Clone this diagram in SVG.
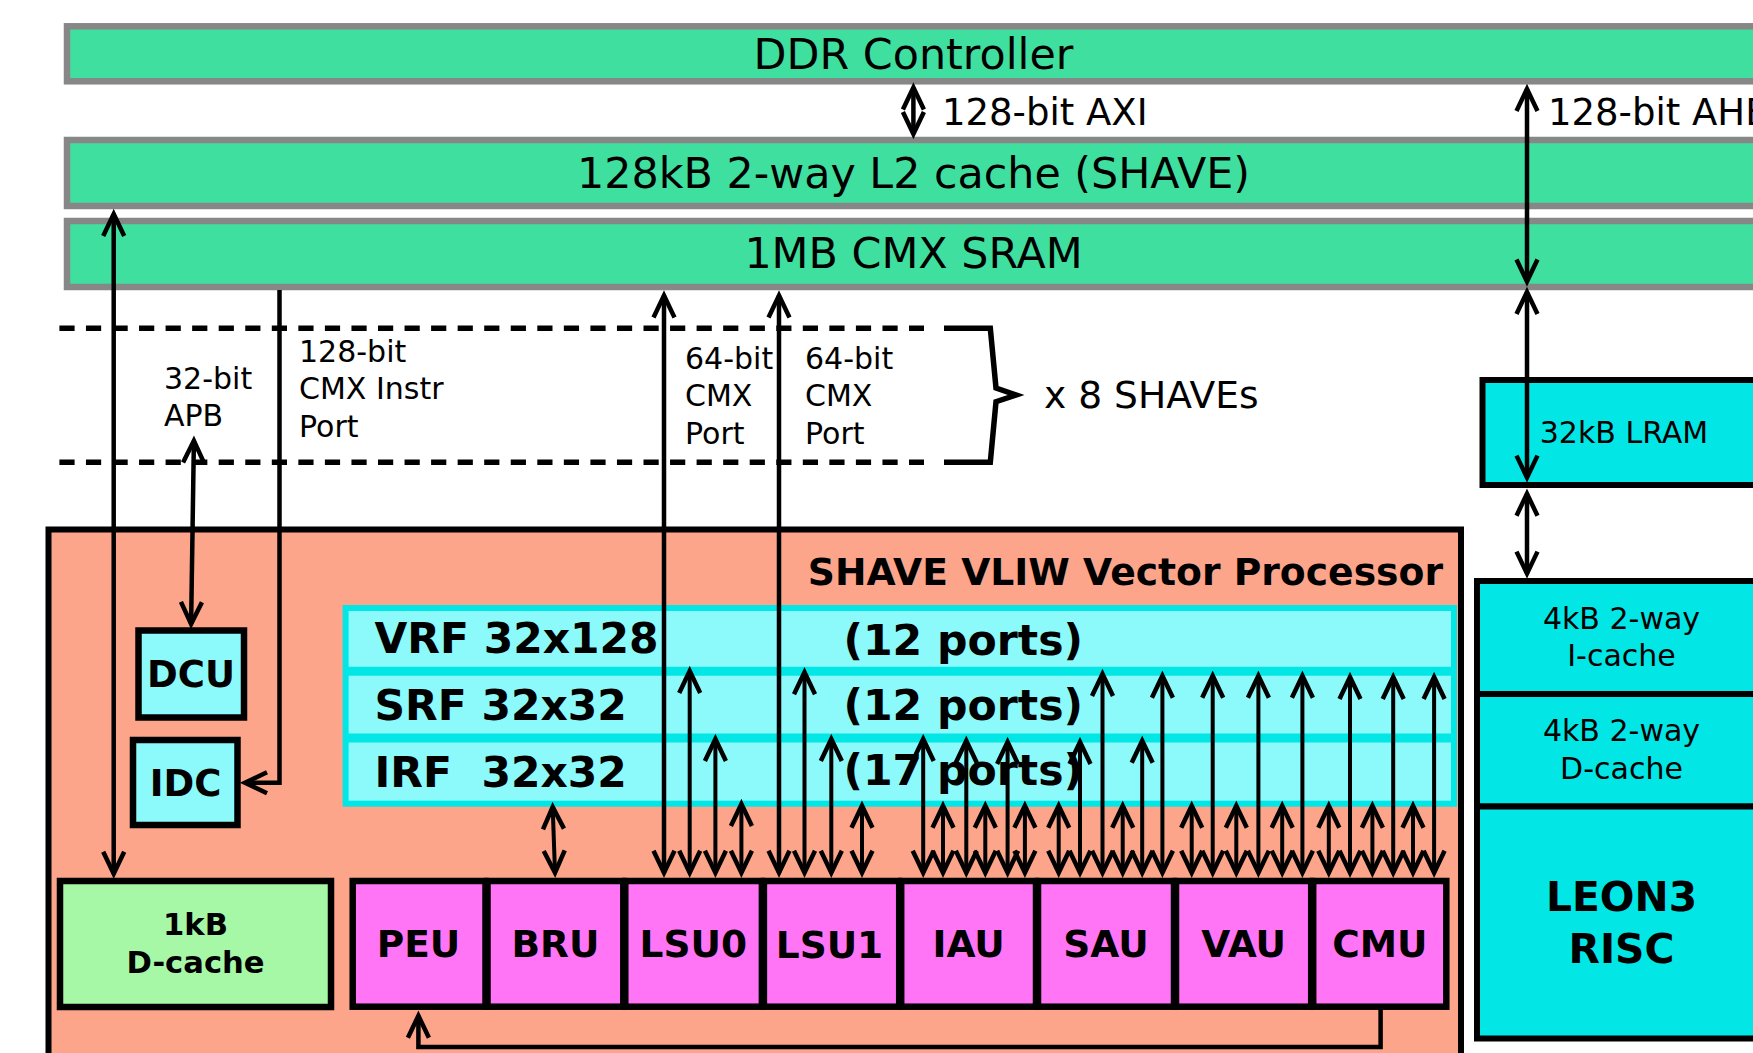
<svg xmlns="http://www.w3.org/2000/svg" width="1753" height="1053" viewBox="0 0 1753 1053">
<defs>
<style>
.bar{fill:#3fe09f;stroke:#878787;stroke-width:6.5}
.t{font-family:"DejaVu Sans","Liberation Sans",sans-serif;fill:#000}
.b{font-family:"DejaVu Sans","Liberation Sans",sans-serif;font-weight:bold;fill:#000}
.c{text-anchor:middle}
.cy{fill:#03e6e6;stroke:#000;stroke-width:6}
.lc{fill:#8cfafa;stroke:#000;stroke-width:6.5}
.fu{fill:#ff75f5;stroke:#000;stroke-width:6.5}
.w{fill:none;stroke:#000;stroke-width:4.5}
.s{fill:none;stroke:#000;stroke-width:4}
.a{marker-start:url(#ah);marker-end:url(#ah)}
.ae{marker-end:url(#ah)}
</style>
<marker id="ah" viewBox="-30 -15 40 30" refX="0" refY="0" markerWidth="40" markerHeight="30" markerUnits="userSpaceOnUse" orient="auto-start-reverse" overflow="visible">
<path d="M-22,-10.5 L0,0 L-22,10.5" fill="none" stroke="#000" stroke-width="4.5"/>
</marker>
</defs>
<rect width="1753" height="1053" fill="#fff"/>

<g id="ddr"><rect class="bar" x="67" y="26.3" width="1740" height="55"/><text class="t c" x="913.5" y="69.3" font-size="42.8">DDR Controller</text></g>
<g id="l2"><rect class="bar" x="67" y="140" width="1740" height="66"/><text class="t c" x="913.5" y="188.3" font-size="42.8">128kB 2-way L2 cache (SHAVE)</text></g>
<g id="cmx"><rect class="bar" x="67" y="221" width="1740" height="66"/><text class="t c" x="913.5" y="268" font-size="42.8">1MB CMX SRAM</text></g>

<g id="lram"><rect class="cy" x="1482.5" y="380" width="320" height="105"/><text class="t c" x="1624" y="443" font-size="30">32kB LRAM</text></g>
<g id="icache"><rect class="cy" x="1477" y="581" width="330" height="113"/><text class="t c" x="1621.5" y="629" font-size="30">4kB 2-way</text><text class="t c" x="1621.5" y="666" font-size="30">I-cache</text></g>
<g id="dcache4k"><rect class="cy" x="1477" y="694" width="330" height="112.5"/><text class="t c" x="1621.5" y="741" font-size="30">4kB 2-way</text><text class="t c" x="1621.5" y="779" font-size="30">D-cache</text></g>
<g id="leon3"><rect class="cy" x="1477" y="806.5" width="330" height="232"/><text class="b c" x="1621.5" y="911" font-size="40.8">LEON3</text><text class="b c" x="1621.5" y="963" font-size="40.8">RISC</text></g>

<g id="shave-rep">
<path d="M59.4,328.3 H924 M59.4,462.3 H924" fill="none" stroke="#000" stroke-width="5.5" stroke-dasharray="15.2 11.35"/>
<path d="M944,328.3 H990.3 L996,388 L1016,395 L996,401.7 L990.3,462.3 H944" fill="none" stroke="#000" stroke-width="5.5"/>
<text class="t" x="1044" y="408" font-size="37.6">x 8 SHAVEs</text>
</g>

<g id="shave">
<rect x="48.5" y="529.5" width="1412.5" height="560" fill="#fca58a" stroke="#000" stroke-width="6"/>
<text class="b" x="1443" y="585" font-size="37.7" text-anchor="end">SHAVE VLIW Vector Processor</text>
</g>

<g id="regfile">
<rect x="345.6" y="608" width="1108.4" height="195.7" fill="#8cfafa" stroke="#03e6e6" stroke-width="6"/>
<path d="M345.6,671.3 H1454 M345.6,738 H1454" stroke="#03e6e6" stroke-width="9"/>
<text class="b" x="374.5" y="653.3" font-size="42.4">VRF 32x128</text>
<text class="b" x="843.5" y="655" font-size="42.6">(12 ports)</text>
<text class="b" x="374.5" y="719.5" font-size="42.4">SRF 32x32</text>
<text class="b" x="843.5" y="720" font-size="42.6">(12 ports)</text>
<text class="b" x="374.5" y="786.5" font-size="42.4" xml:space="preserve">IRF  32x32</text>
<text class="b" x="843.5" y="785" font-size="42.6">(17 ports)</text>
</g>

<g id="dcu"><rect class="lc" x="138.5" y="630.5" width="105.5" height="87"/><text class="b c" x="191" y="686.7" font-size="37">DCU</text></g>
<g id="idc"><rect class="lc" x="133" y="740" width="104.5" height="85"/><text class="b c" x="185.5" y="795.5" font-size="37">IDC</text></g>
<g id="dcache1k"><rect x="60" y="881" width="271" height="126" fill="#a6f7a6" stroke="#000" stroke-width="6.5"/><text class="b c" x="195.5" y="935" font-size="30.6">1kB</text><text class="b c" x="195.5" y="972.7" font-size="30.6">D-cache</text></g>

<g id="peu"><rect class="fu" x="352.7" y="881" width="132.8" height="125.7"/><text class="b c" x="418.5" y="956.7" font-size="37.5">PEU</text></g>
<g id="bru"><rect class="fu" x="487.5" y="881" width="135.8" height="125.7"/><text class="b c" x="555.4" y="956.7" font-size="37.5">BRU</text></g>
<g id="lsu0"><rect class="fu" x="625.3" y="881" width="136.6" height="125.7"/><text class="b c" x="693.3" y="956.7" font-size="37.5">LSU0</text></g>
<g id="lsu1"><rect class="fu" x="763.9" y="881" width="135.3" height="125.7"/><text class="b c" x="829.5" y="957.7" font-size="37.5">LSU1</text></g>
<g id="iau"><rect class="fu" x="901.2" y="881" width="134.8" height="125.7"/><text class="b c" x="968.6" y="956.7" font-size="37.5">IAU</text></g>
<g id="sau"><rect class="fu" x="1038" y="881" width="136" height="125.7"/><text class="b c" x="1106" y="956.7" font-size="37.5">SAU</text></g>
<g id="vau"><rect class="fu" x="1176" y="881" width="135.2" height="125.7"/><text class="b c" x="1243.6" y="956.7" font-size="37.5">VAU</text></g>
<g id="cmu"><rect class="fu" x="1313.2" y="881" width="133.1" height="125.7"/><text class="b c" x="1379.8" y="956.7" font-size="37.5">CMU</text></g>

<g id="labels">
<text class="t" x="942" y="125" font-size="37">128-bit AXI</text>
<text class="t" x="1548" y="125" font-size="37">128-bit AHB</text>
<text class="t" x="164" y="389" font-size="30">32-bit</text>
<text class="t" x="164" y="425.7" font-size="30">APB</text>
<text class="t" x="299" y="362.3" font-size="30">128-bit</text>
<text class="t" x="299" y="399" font-size="30">CMX Instr</text>
<text class="t" x="299" y="436.7" font-size="30">Port</text>
<text class="t" x="685" y="369" font-size="30">64-bit</text>
<text class="t" x="685" y="406" font-size="30">CMX</text>
<text class="t" x="685" y="444" font-size="30">Port</text>
<text class="t" x="805" y="369" font-size="30">64-bit</text>
<text class="t" x="805" y="406" font-size="30">CMX</text>
<text class="t" x="805" y="444" font-size="30">Port</text>
</g>

<g id="connectors">
<path class="w a" d="M913.4,87.5 V134"/>
<path class="w a" d="M1527,89 V281.5"/>
<path class="w a" d="M1527,292 V477.6"/>
<path class="w a" d="M1527,493.7 V573.6"/>
<path class="w a" d="M113.7,214 V873.7"/>
<path class="w ae" d="M279.5,290 V782.7 H245"/>
<path class="w a" d="M193.9,440.7 L191.1,624"/>
<path class="w a" d="M664,295.5 V872.7"/>
<path class="w a" d="M779,295.5 V872.7"/>
<path class="w ae" d="M1380.6,1009 V1047 H418.4 V1015.7"/>
<g class="s a">
<path d="M552.7,807 L555,872.7"/>
<path d="M689.7,671 V872.7"/>
<path d="M715.4,739 V872.7"/>
<path d="M741.4,804 V872.7"/>
<path d="M804.5,672.3 V872.7"/>
<path d="M831.3,739 V872.7"/>
<path d="M862,805.7 V872.7"/>
<path d="M923.2,739 V872.7"/>
<path d="M943,805.7 V872.7"/>
<path d="M966.3,740.7 V872.7"/>
<path d="M985.3,805.7 V872.7"/>
<path d="M1007.6,742 V872.7"/>
<path d="M1024.9,805.7 V872.7"/>
<path d="M1058.7,805.7 V872.7"/>
<path d="M1080,742 V872.7"/>
<path d="M1102.5,674 V872.7"/>
<path d="M1122.7,805.7 V872.7"/>
<path d="M1142.2,740.7 V872.7"/>
<path d="M1162.4,675.7 V872.7"/>
<path d="M1191.7,805.7 V872.7"/>
<path d="M1212.7,675.7 V872.7"/>
<path d="M1236.3,805.7 V872.7"/>
<path d="M1258.4,675.7 V872.7"/>
<path d="M1282.2,805.7 V872.7"/>
<path d="M1302.4,675.7 V872.7"/>
<path d="M1328.8,805.7 V872.7"/>
<path d="M1350,677 V872.7"/>
<path d="M1372.4,805.7 V872.7"/>
<path d="M1393.2,677 V872.7"/>
<path d="M1413,805.7 V872.7"/>
<path d="M1434.1,677 V872.7"/>
</g>
</g>
</svg>
